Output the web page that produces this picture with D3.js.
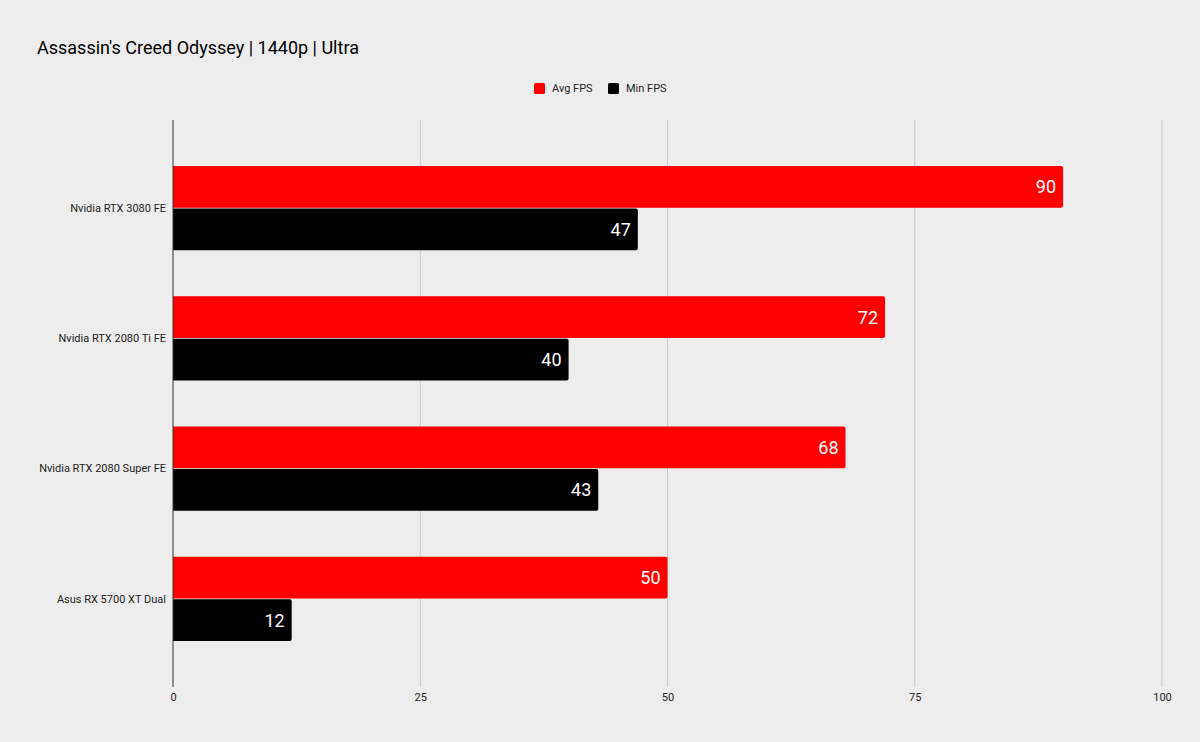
<!DOCTYPE html>
<html lang="en">
<head>
    <meta charset="UTF-8">
    <title>Assassin's Creed Odyssey | 1440p | Ultra</title>
    <script src="https://d3js.org/d3.v7.min.js"></script>
    <style>
        body { margin: 0; background: #ededed; }
        text { font-family: Roboto, "Liberation Sans", sans-serif; }
    </style>
</head>
<body>
    <script>
        var w = 1200;
        var h = 742;

        var categories = ["Nvidia RTX 3080 FE", "Nvidia RTX 2080 Ti FE", "Nvidia RTX 2080 Super FE", "Asus RX 5700 XT Dual"];
        var seriesNames = ["Avg FPS", "Min FPS"];
        var avgFps = [90, 72, 68, 50];
        var minFps = [47, 40, 43, 12];
        var xTicks = [0, 25, 50, 75, 100];
        var colors = ["#ff0000", "#000000"];

        var margin = {top: 120, right: 38, bottom: 55, left: 173};

        var svg = d3.select("body")
            .append("svg")
            .attr("width", w)
            .attr("height", h);

        svg.append("rect")
            .attr("width", w)
            .attr("height", h)
            .attr("fill", "#ededed");

        // title
        svg.append("text")
            .attr("x", 37)
            .attr("y", 54)
            .attr("font-size", "18px")
            .attr("fill", "#000")
            .text("Assassin's Creed Odyssey | 1440p | Ultra");

        var xScale = d3.scaleLinear()
            .domain([0, 100])
            .range([margin.left, w - margin.right]);

        var yScale = d3.scaleBand()
            .domain(categories)
            .range([margin.top, h - margin.bottom])
            .paddingInner(0.354)
            .paddingOuter(0.354);

        var ySub = d3.scaleBand()
            .domain(seriesNames)
            .range([0, yScale.bandwidth()])
            .paddingInner(0.02);

        // grid lines
        svg.append("g")
            .selectAll("line")
            .data(xTicks.slice(1))
            .enter()
            .append("line")
            .attr("x1", function(d) { return xScale(d); })
            .attr("x2", function(d) { return xScale(d); })
            .attr("y1", margin.top)
            .attr("y2", h - margin.bottom)
            .attr("stroke", "#c8c8c8")
            .attr("stroke-width", 1);

        // x axis tick labels
        var xAxis = d3.axisBottom(xScale)
            .tickValues(xTicks)
            .tickSize(0)
            .tickPadding(6)
            .tickFormat(d3.format("d"));

        var gx = svg.append("g")
            .attr("transform", "translate(0," + (h - margin.bottom) + ")")
            .call(xAxis);
        gx.select(".domain").remove();
        gx.selectAll("text")
            .attr("font-size", "11px")
            .attr("font-family", "Roboto, sans-serif")
            .attr("fill", "#222");

        // category labels
        svg.append("g")
            .selectAll("text")
            .data(categories)
            .enter()
            .append("text")
            .attr("x", margin.left - 7)
            .attr("y", function(d) { return yScale(d) + yScale.bandwidth() / 2; })
            .attr("dy", "0.35em")
            .attr("text-anchor", "end")
            .attr("font-size", "11px")
            .attr("fill", "#222")
            .text(function(d) { return d; });

        var rows = [];
        categories.forEach(function(c, i) {
            rows.push({cat: c, series: seriesNames[0], value: avgFps[i], color: colors[0]});
            rows.push({cat: c, series: seriesNames[1], value: minFps[i], color: colors[1]});
        });

        // bars with rounded right end
        function barPath(d) {
            var x0 = xScale(0);
            var x1 = xScale(d.value);
            var y0 = yScale(d.cat) + ySub(d.series);
            var bh = ySub.bandwidth();
            var r = 2;
            return "M" + x0 + "," + y0 +
                "H" + (x1 - r) +
                "Q" + x1 + "," + y0 + " " + x1 + "," + (y0 + r) +
                "V" + (y0 + bh - r) +
                "Q" + x1 + "," + (y0 + bh) + " " + (x1 - r) + "," + (y0 + bh) +
                "H" + x0 + "Z";
        }

        svg.append("g")
            .selectAll("path")
            .data(rows)
            .enter()
            .append("path")
            .attr("d", barPath)
            .attr("fill", function(d) { return d.color; });

        // value labels
        svg.append("g")
            .selectAll("text")
            .data(rows)
            .enter()
            .append("text")
            .attr("x", function(d) { return xScale(d.value) - 7; })
            .attr("y", function(d) { return yScale(d.cat) + ySub(d.series) + ySub.bandwidth() / 2; })
            .attr("dy", "0.36em")
            .attr("text-anchor", "end")
            .attr("font-family", "'Open Sans', sans-serif")
            .attr("font-size", "18px")
            .attr("fill", "#fff")
            .text(function(d) { return d.value; });

        // zero axis line
        svg.append("line")
            .attr("x1", xScale(0))
            .attr("x2", xScale(0))
            .attr("y1", margin.top)
            .attr("y2", h - margin.bottom)
            .attr("stroke", "#333")
            .attr("stroke-width", 1);

        // legend
        var legendX = [534, 608];
        var legend = svg.append("g")
            .selectAll("g")
            .data(seriesNames)
            .enter()
            .append("g")
            .attr("transform", function(d, i) { return "translate(" + legendX[i] + ",83)"; });

        legend.append("rect")
            .attr("width", 11)
            .attr("height", 11)
            .attr("rx", 1.5)
            .attr("fill", function(d, i) { return colors[i]; });

        legend.append("text")
            .attr("x", 18)
            .attr("y", 5.5)
            .attr("dy", "0.35em")
            .attr("font-size", "11px")
            .attr("fill", "#222")
            .text(function(d) { return d; });
    </script>
</body>
</html>
